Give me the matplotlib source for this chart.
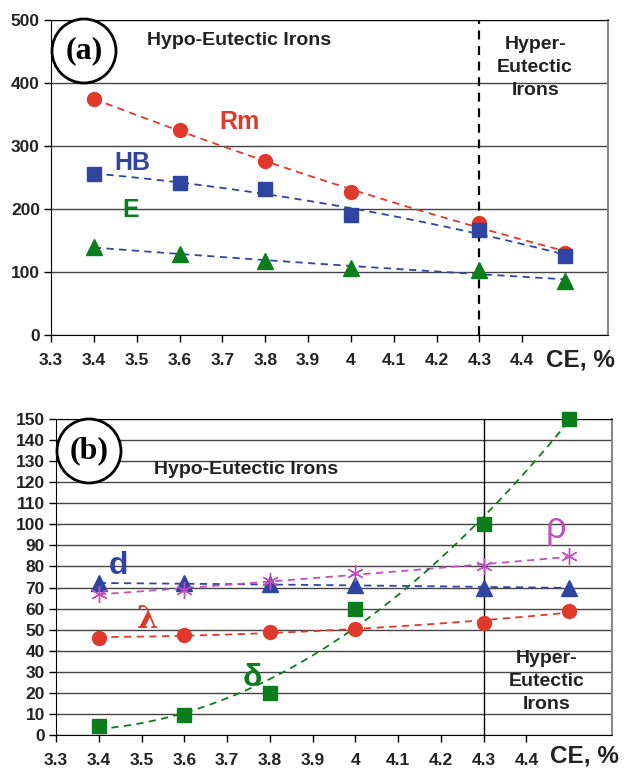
import numpy as np
import matplotlib.pyplot as plt
from matplotlib.patches import Ellipse

plt.rcParams['font.family'] = ['Liberation Sans', 'DejaVu Sans']

ce = [3.4, 3.6, 3.8, 4.0, 4.3, 4.5]

# panel (a)
rm = [375, 325, 276, 227, 177, 130]
hb = [256, 241, 231, 191, 167, 125]
elong = [140, 128, 118, 107, 103, 85]

# panel (b)
d_vals = [72, 72, 71.5, 71, 70, 70]
rho = [67, 69, 73, 77, 80, 85]
lam = [46, 47.5, 49, 50.5, 53, 59]
delta = [4.5, 9.5, 20, 60, 100, 150]

xticks = [3.3, 3.4, 3.5, 3.6, 3.7, 3.8, 3.9, 4.0, 4.1, 4.2, 4.3, 4.4]
xticklabels = ['3.3', '3.4', '3.5', '3.6', '3.7', '3.8', '3.9', '4', '4.1', '4.2', '4.3', '4.4']

RED = '#e0392b'
BLUE = '#2f45a0'
GREEN = '#0b7d1b'
MAG = '#c24fc0'
TXT = '#222222'

fig = plt.figure(figsize=(6.31, 7.72), dpi=100)
ax1 = fig.add_axes([51/631, 1-335/772, 557/631, 315/772])
ax2 = fig.add_axes([56/631, 1-735/772, 556/631, 316/772])

xs = np.linspace(3.4, 4.5, 100)


def trend(ax, y, color, deg=2):
    p = np.polyfit(ce, y, deg)
    ax.plot(xs, np.polyval(p, xs), '--', color=color, lw=1.3, dashes=(4, 3), zorder=3)


def style(ax, ymax, ystep, ce_y):
    ax.set_xlim(3.3, 4.6)
    ax.set_ylim(0, ymax)
    ax.set_yticks(np.arange(0, ymax + 1, ystep))
    ax.set_xticks(xticks)
    ax.set_xticklabels(xticklabels)
    ax.grid(axis='y', color='#444444', lw=1.0)
    ax.set_axisbelow(True)
    for lab in ax.get_xticklabels() + ax.get_yticklabels():
        lab.set_fontweight('bold')
        lab.set_fontsize(12.5)
        lab.set_color(TXT)
    ax.tick_params(direction='out', length=5, width=1, pad=8)
    ax.tick_params(axis='y', pad=3)
    for s in ['left', 'bottom', 'top']:
        ax.spines[s].set_color('black')
    ax.spines['right'].set_color('#888888')
    ax.spines['right'].set_linewidth(1.5)
    ax.text(4.535, ce_y, 'CE, %', transform=ax.get_xaxis_transform(), ha='center',
            va='center', fontsize=17.5, fontweight='bold', color=TXT)


def badge(cx, cy, txt):
    fig.add_artist(Ellipse((cx/631, 1-cy/772), 64/631, 64/772, transform=fig.transFigure,
                           fill=True, facecolor='white', edgecolor='black', lw=2, zorder=10))
    fig.text(cx/631, 1-cy/772, txt, ha='center', va='center', fontsize=23,
             fontweight='bold', family='Liberation Serif', zorder=11)


def note(ax, x, y, s):
    ax.text(x, y, s, ha='center', va='center', fontsize=14, fontweight='bold',
            color=TXT, linespacing=1.45)


# ---- (a)
style(ax1, 500, 100, -0.08)
ax1.axvline(4.3, color='black', ls='--', lw=1.6, dashes=(4, 3), zorder=2)
trend(ax1, rm, RED)
trend(ax1, hb, BLUE)
trend(ax1, elong, BLUE)
ax1.plot(ce, rm, 'o', color=RED, ms=10, zorder=4)
ax1.plot(ce, hb, 's', color=BLUE, ms=10, zorder=5)
ax1.plot(ce, elong, '^', color=GREEN, ms=11, zorder=4)
note(ax1, 3.74, 468, 'Hypo-Eutectic Irons')
note(ax1, 4.43, 425, 'Hyper-\nEutectic\nIrons')
ax1.text(3.74, 338, 'Rm', color=RED, fontsize=18, fontweight='bold', ha='center', va='center')
ax1.text(3.49, 273, 'HB', color=BLUE, fontsize=18, fontweight='bold', ha='center', va='center')
ax1.text(3.485, 198, 'E', color=GREEN, fontsize=18, fontweight='bold', ha='center', va='center')
badge(84, 51, '(a)')

# ---- (b)
style(ax2, 150, 10, -0.068)
ax2.axvline(4.3, color='black', lw=1.0, zorder=2)
trend(ax2, d_vals, BLUE)
trend(ax2, rho, MAG)
trend(ax2, lam, RED)
trend(ax2, delta, GREEN, deg=2)
ax2.plot(ce, d_vals, '^', color=BLUE, ms=11, zorder=4)
ax2.plot(ce, rho, marker=(6, 2, 0), ls='none', color=MAG, ms=12, mew=1, zorder=4)
ax2.plot(ce, lam, 'o', color=RED, ms=10, zorder=4)
ax2.plot(ce, delta, 's', color=GREEN, ms=10, zorder=5, clip_on=False)
note(ax2, 3.745, 126, 'Hypo-Eutectic Irons')
note(ax2, 4.448, 25.5, 'Hyper-\nEutectic\nIrons')
ax2.text(3.445, 80, 'd', color=BLUE, fontsize=23, fontweight='bold', ha='center', va='center')
ax2.text(4.47, 98, 'ρ', color=MAG, fontsize=26, ha='center', va='center')
ax2.text(3.513, 55, 'λ', color=RED, fontsize=22, fontweight='bold', ha='center', va='center',
         family='DejaVu Serif')
ax2.text(3.76, 27, 'δ', color=GREEN, fontsize=23, fontweight='bold', ha='center', va='center')
badge(89, 451, '(b)')

fig.savefig('out.png', dpi=100)
